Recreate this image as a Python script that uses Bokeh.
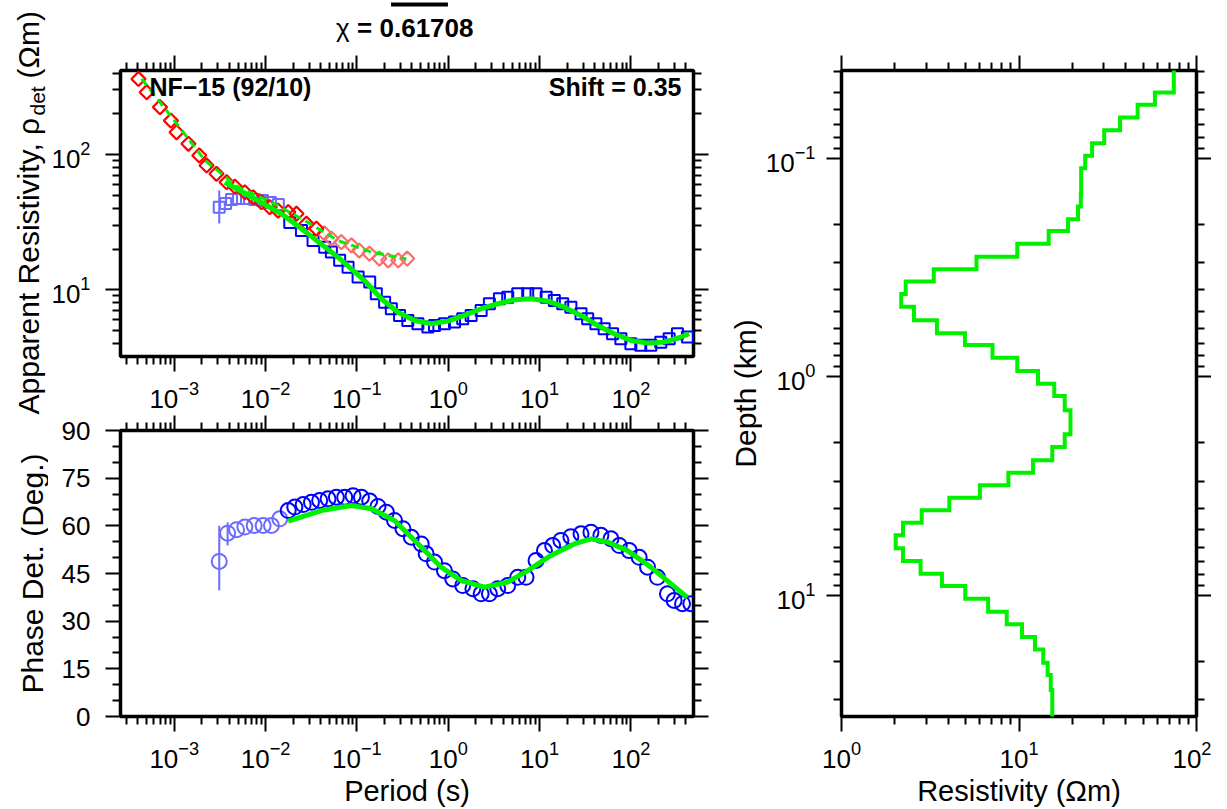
import numpy as np
from bokeh.plotting import figure
from bokeh.models import (Range1d, LogAxis, LinearAxis, FixedTicker, Label,
                          CustomJSTickFormatter)
from bokeh.layouts import row, column
from bokeh.core.properties import value
from bokeh.embed import file_html
from bokeh.resources import INLINE

FONT = "Liberation Sans"
BLUE = "#0000ff"
LBLUE = "#6b6bff"
RED = "#ff0000"
PINK = "#ff6b6b"
GREEN = "#00f000"

# ---------------- apparent resistivity (determinant) ----------------
rho_light_T = [3.11e-3, 3.65e-3, 4.24e-3, 5.06e-3, 6.18e-3, 7.57e-3, 9.25e-3, 1.13e-2, 1.38e-2]
rho_light = [40.8, 43.5, 46.4, 47.3, 47.3, 46.4, 45.7, 44.2, 42.7]
rho_err_T = [3.11e-3]
rho_err_lo = [30.9]
rho_err_hi = [54.2]

rho_T = [1.84e-2, 2.47e-2, 3.31e-2, 4.44e-2, 5.25e-2, 6.47e-2, 8.0e-2, 0.103, 0.138, 0.163,
         0.201, 0.238, 0.293, 0.361, 0.465, 0.598, 0.707, 0.908, 1.17, 1.44,
         1.78, 2.29, 2.82, 3.63, 4.48, 5.76, 7.41, 9.14, 11.8, 14.5,
         17.9, 22.0, 28.4, 33.6, 41.3, 50.9, 62.9, 77.6, 99.8, 128,
         165, 212, 262, 323, 416]
rho_det = [31.4, 27.4, 23.1, 20.6, 19.0, 16.5, 14.7, 12.4, 11.4, 9.34,
           8.09, 7.24, 6.46, 5.93, 5.61, 5.30, 5.45, 5.61, 5.77, 6.11,
           6.46, 7.03, 7.88, 8.58, 8.81, 9.34, 9.34, 9.34, 8.81, 8.34,
           7.88, 7.43, 6.65, 6.11, 5.61, 5.15, 4.73, 4.35, 3.99, 3.88,
           3.88, 4.10, 4.35, 4.73, 4.47]

red_T = [4.06e-4, 4.99e-4, 6.98e-4, 9.2e-4, 1.06e-3, 1.43e-3, 1.88e-3, 2.26e-3, 2.90e-3, 3.74e-3,
         4.61e-3, 5.93e-3, 7.32e-3, 9.01e-3, 1.11e-2, 1.37e-2, 1.77e-2, 2.18e-2, 2.80e-2, 3.60e-2]
red_rho = [362, 289, 224, 178, 146, 120, 98.4, 83.0, 72.0, 62.4,
           58.0, 52.6, 48.3, 44.4, 40.8, 38.5, 37.5, 36.5, 30.8, 28.3]
pink_T = [0.0441, 0.0525, 0.0675, 0.0871, 0.106, 0.137, 0.176, 0.220, 0.283, 0.355]
pink_rho = [26.1, 23.9, 22.5, 21.3, 19.5, 18.5, 17.0, 16.5, 16.5, 17.0]

mod_rho_T = [3.58e-3, 7.62e-3, 1.49e-2, 2.92e-2, 6.21e-2, 0.121, 0.185, 0.281, 0.428, 0.650,
             0.991, 1.50, 2.29, 3.48, 5.30, 8.06, 12.3, 18.6, 28.3, 43.1,
             65.5, 99.8, 152, 231, 351, 433]
mod_rho = [62.4, 47.1, 36.5, 25.9, 17.4, 11.7, 8.58, 6.82, 5.93, 5.61,
           5.86, 6.46, 7.24, 7.88, 8.44, 8.58, 8.24, 7.43, 6.46, 5.45,
           4.73, 4.22, 4.03, 4.10, 4.47, 4.73]
mod_red_T = [4.41e-4, 9.37e-4, 2.17e-3, 5.02e-3, 1.16e-2, 2.68e-2, 6.21e-2, 0.144, 0.347]
mod_red = [362, 189, 90.3, 57.3, 44.4, 32.5, 23.1, 19.0, 16.9]

# ---------------- phase (determinant) ----------------
ph_light_T = [3.11e-3, 3.84e-3, 4.81e-3, 5.93e-3, 7.5e-3, 9.4e-3, 1.16e-2, 1.43e-2]
ph_light = [48.8, 57.7, 58.8, 59.6, 60.1, 60.1, 60.1, 62.2]
ph_err_T = [3.11e-3, 3.84e-3]
ph_err_lo = [39.7, 53.8]
ph_err_hi = [60.0, 61.1]

ph_T = [1.77e-2, 2.09e-2, 2.58e-2, 3.18e-2, 3.91e-2, 4.83e-2, 5.96e-2, 7.35e-2, 9.07e-2, 0.112,
        0.138, 0.170, 0.210, 0.258, 0.319, 0.394, 0.506, 0.573, 0.707, 0.908,
        1.12, 1.44, 1.86, 2.29, 2.82, 3.48, 4.48, 5.76, 7.10, 9.14,
        11.3, 13.9, 17.1, 22.0, 28.4, 36.5, 46.9, 60.4, 74.5, 95.7,
        123, 152, 195, 251, 297, 367, 452]
ph = [64.8, 65.9, 66.7, 67.4, 68.0, 68.5, 69.0, 69.0, 69.5, 69.0,
      67.8, 66.1, 64.3, 61.7, 59.1, 56.4, 54.3, 51.2, 48.6, 45.9,
      43.3, 41.2, 40.2, 38.6, 38.6, 40.2, 41.2, 43.8, 43.8, 49.1,
      52.2, 53.8, 55.4, 56.6, 57.5, 58.0, 57.0, 55.9, 53.8, 52.2,
      50.1, 47.0, 43.8, 38.6, 36.5, 35.5, 35.5]

mod_ph_T = [1.77e-2, 4.08e-2, 8.69e-2, 0.144, 0.258, 0.506, 0.836, 1.38, 2.49, 4.48,
            7.41, 13.3, 23.9, 36.5, 55.5, 91.8, 165, 273, 415]
mod_ph = [61.5, 64.8, 66.4, 65.4, 61.7, 53.3, 47.0, 42.8, 40.7, 42.3,
          45.9, 50.7, 54.3, 55.9, 54.9, 52.2, 47.0, 41.8, 37.5]

# ---------------- 1-D model (resistivity vs depth) ----------------
layer_bottom_km = [0.0501, 0.0570, 0.0651, 0.0744, 0.0853, 0.0975, 0.111, 0.127, 0.146, 0.166,
                   0.190, 0.215, 0.246, 0.282, 0.322, 0.366, 0.418, 0.478, 0.550, 0.631,
                   0.714, 0.816, 0.939, 1.073, 1.221, 1.420, 1.606, 1.828, 2.090, 2.405,
                   2.741, 3.129, 3.566, 4.072, 4.639, 5.299, 6.075, 6.946, 7.940, 9.04,
                   10.33, 11.85, 13.53, 15.47, 17.61, 20.28, 23.08, 27.03]
layer_rho = [74.5, 58.3, 46.6, 37.1, 30.2, 25.8, 23.6, 22.4, 22.4, 22.3,
             21.5, 18.9, 14.7, 9.78, 5.76, 3.31, 2.30, 2.17, 2.56, 3.45,
             4.96, 7.09, 9.78, 12.8, 15.8, 18.1, 19.5, 19.5, 18.1, 15.4,
             12.0, 8.71, 6.02, 4.05, 2.83, 2.22, 2.02, 2.22, 2.79, 3.68,
             4.98, 6.70, 8.53, 10.4, 12.3, 13.7, 14.5, 15.1, 15.4]

period_range = (2.58e-4, 484.0)
rho_range = (3.21, 418.0)
depth_range = (35.7, 0.0397)
res_range = (1.0, 100.0)

TICK_PX = "26px"
LABEL_PX = "30px"


def log_ticker(lo, hi):
    major = [10.0 ** k for k in range(lo, hi + 1)]
    minor = [m * 10.0 ** k for k in range(lo - 1, hi + 1) for m in range(2, 10)]
    return FixedTicker(ticks=major, minor_ticks=minor)


def style_axis(ax, labels=True, standoff=9):
    ax.axis_line_color = None
    ax.major_tick_in = 0
    ax.major_tick_out = 15
    ax.minor_tick_in = 0
    ax.minor_tick_out = 8
    ax.major_tick_line_width = 2
    ax.minor_tick_line_width = 2
    ax.major_tick_line_color = "black"
    ax.minor_tick_line_color = "black"
    ax.major_label_text_font = FONT
    ax.major_label_text_font_size = TICK_PX
    ax.major_label_text_color = "black"
    ax.major_label_standoff = standoff
    if not labels:
        ax.formatter = CustomJSTickFormatter(code="return ''")
        ax.major_label_standoff = 0
        ax.major_label_text_font_size = "0px"


def make_fig(xr, yr, xt, yt, w, h, bl, br, bt, bb):
    p = figure(x_range=Range1d(*xr), y_range=Range1d(*yr), x_axis_type=xt, y_axis_type=yt,
               width=w, height=h, min_border_left=bl, min_border_right=br,
               min_border_top=bt, min_border_bottom=bb, output_backend="svg",
               toolbar_location=None, background_fill_color="white",
               border_fill_color="white", align="start")
    p.xgrid.visible = False
    p.ygrid.visible = False
    p.outline_line_color = "black"
    p.outline_line_width = 3.5
    p.outline_line_alpha = 1.0
    return p


def finish_axes(p, xtick, ytick, xlog, ylog, ystandoff):
    p.xaxis.ticker = xtick
    p.yaxis.ticker = ytick
    for ax in p.xaxis:
        style_axis(ax, True, 9)
    for ax in p.yaxis:
        style_axis(ax, True, ystandoff)
    top = LogAxis(ticker=xtick) if xlog else LinearAxis(ticker=xtick)
    right = LogAxis(ticker=ytick) if ylog else LinearAxis(ticker=ytick)
    style_axis(top, False)
    style_axis(right, False)
    p.add_layout(top, "above")
    p.add_layout(right, "right")


def canvas(w, h, x0=None, x1=None):
    """Blank panel for titles outside the plot frames; x range given in page pixels
    (its frame is aligned by the layout with the plot frame in the same column)."""
    xr = Range1d(0, w) if x0 is None else Range1d(x0, x1)
    f = figure(width=w, height=h, x_range=xr, y_range=Range1d(0, h),
               x_axis_location=None, y_axis_location=None, min_border=0,
               min_border_left=0, min_border_right=0, min_border_top=0, min_border_bottom=0,
               toolbar_location=None, output_backend="svg", align="start",
               background_fill_color="white", border_fill_color="white")
    f.outline_line_color = None
    f.xgrid.visible = False
    f.ygrid.visible = False
    return f


def ctext(f, x, y, s, size, align="center", angle=0.0, bold=False):
    f.text(x=[x], y=[y], text=[s], text_font=value(FONT), text_font_size=value(size),
           text_align=align, text_baseline="middle", angle=angle, text_color="black",
           text_font_style="bold" if bold else "normal")


def in_frame_label(p, x, y, s, align):
    p.add_layout(Label(x=x, y=y, x_units="screen", y_units="screen", text=s,
                       text_font=FONT, text_font_size="25px", text_font_style="bold",
                       text_align=align, text_baseline="middle", text_color="black"))


FOOT_H = 34
TOTAL_H = 774 + FOOT_H

# ---------- top-left: apparent resistivity ----------
p1 = make_fig(period_range, rho_range, "log", "log", 665, 367, 71, 20, 22, 59)
finish_axes(p1, log_ticker(-3, 2), log_ticker(0, 3), True, True, 15)

p1.segment(x0=rho_err_T, y0=rho_err_lo, x1=rho_err_T, y1=rho_err_hi, line_color=LBLUE, line_width=2)
p1.scatter(rho_light_T, rho_light, marker="square", size=11, fill_color=None,
           line_color=LBLUE, line_width=2)
p1.scatter(rho_T, rho_det, marker="square", size=11, fill_color=None,
           line_color=BLUE, line_width=2)
p1.scatter(pink_T, pink_rho, marker="square", angle=np.pi / 4, size=10, fill_color=None,
           line_color=PINK, line_width=2.2)
p1.scatter(red_T, red_rho, marker="square", angle=np.pi / 4, size=10, fill_color=None,
           line_color=RED, line_width=2.2)
p1.line(mod_rho_T, mod_rho, line_color=GREEN, line_width=5)
p1.line(mod_red_T, mod_red, line_color=GREEN, line_width=3, line_dash="8 5")

in_frame_label(p1, 29, 270, "NF\u221215 (92/10)", "left")
in_frame_label(p1, 561, 270, "Shift = 0.35", "right")

# ---------- bottom-left: phase ----------
p2 = make_fig(period_range, (0, 90), "log", "linear", 665, 359, 71, 20, 15, 58)
ph_ticks = FixedTicker(ticks=[0, 15, 30, 45, 60, 75, 90],
                       minor_ticks=[5, 10, 20, 25, 35, 40, 50, 55, 65, 70, 80, 85])
finish_axes(p2, log_ticker(-3, 2), ph_ticks, True, False, 15)

p2.segment(x0=ph_err_T, y0=ph_err_lo, x1=ph_err_T, y1=ph_err_hi, line_color=LBLUE, line_width=2)
p2.scatter(ph_light_T, ph_light, marker="circle", size=15, fill_color=None,
           line_color=LBLUE, line_width=2)
p2.scatter(ph_T, ph, marker="circle", size=15, fill_color=None,
           line_color=BLUE, line_width=2)
p2.line(mod_ph_T, mod_ph, line_color=GREEN, line_width=5)

# ---------- right: layered model ----------
p3 = make_fig(res_range, depth_range, "log", "log", 449, 774, 76, 15, 70, 58)
finish_axes(p3, log_ticker(0, 2), log_ticker(-2, 2), True, True, 11)

step_x, step_y = [], []
tops = [0.02] + layer_bottom_km
bottoms = layer_bottom_km + [60.0]
for r, t, b in zip(layer_rho, tops, bottoms):
    step_x += [r, r]
    step_y += [t, b]
p3.line(step_x, step_y, line_color=GREEN, line_width=4, line_join="miter")

# ---------- title / axis-title panels ----------
header = canvas(665, 48, 119, 693)
ctext(header, 335, 21, "\u03c7", "26px", align="left")
ctext(header, 356, 21, "= 0.61708", "26px", align="left", bold=True)
header.quad(left=[390], right=[447], bottom=[42], top=[46], fill_color="black", line_color=None)

footL = canvas(665, FOOT_H, 119, 693)
ctext(footL, 406, 17.5, "Period (s)", "29px")

stripL = canvas(48, TOTAL_H)
ya = TOTAL_H - 414
ctext(stripL, 28, ya, "Apparent Resistivity, \u03c1", LABEL_PX, align="left", angle=np.pi / 2)
ctext(stripL, 36.5, ya + 299, "det", "21px", align="left", angle=np.pi / 2)
ctext(stripL, 28, ya + 336, "(\u03a9m)", LABEL_PX, align="left", angle=np.pi / 2)
ctext(stripL, 32, TOTAL_H - 573, "Phase Det. (Deg.)", LABEL_PX, angle=np.pi / 2)

stripR = canvas(49, TOTAL_H)
ctext(stripR, 31.5, TOTAL_H - 393, "Depth (km)", LABEL_PX, angle=np.pi / 2)

footR = canvas(449, FOOT_H, 838, 1196)
ctext(footR, 1017, 17.5, "Resistivity (\u03a9m)", "29px")

colL = column(header, p1, p2, footL, align="start")
colR = column(p3, footR, align="start")
layout = row(stripL, colL, stripR, colR, align="start")
open("out.html", "w").write(file_html(layout, INLINE))
